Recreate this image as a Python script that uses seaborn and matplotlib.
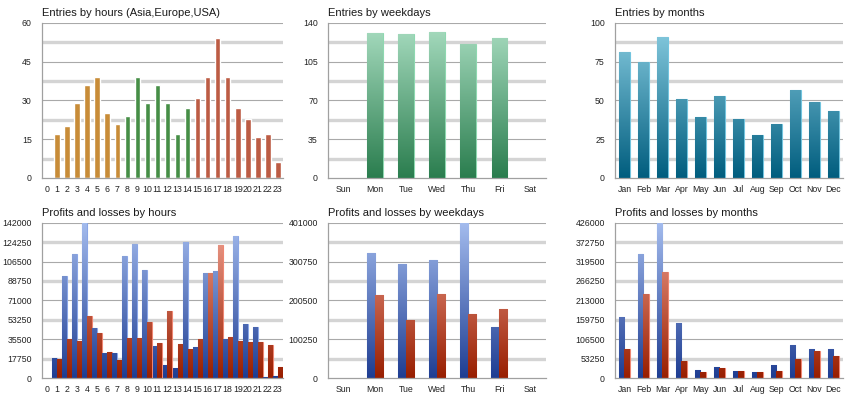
import numpy as np
import pandas as pd
import matplotlib
matplotlib.use("Agg")
import matplotlib.pyplot as plt
import seaborn as sns
from matplotlib.colors import LinearSegmentedColormap, to_hex
from matplotlib.ticker import FixedLocator, FixedFormatter, NullFormatter

# data
hours = [str(h) for h in range(24)]
hour_entries = [0, 17, 20, 29, 36, 39, 25, 21, 24, 39, 29, 36,
                29, 17, 27, 31, 39, 54, 39, 27, 23, 16, 17, 6]
hour_region = ["Asia"] * 8 + ["Europe"] * 7 + ["USA"] * 9

weekdays = ["Sun", "Mon", "Tue", "Wed", "Thu", "Fri", "Sat"]
weekday_entries = [0, 131, 130, 132, 121, 126, 0]

months = ["Jan", "Feb", "Mar", "Apr", "May", "Jun",
          "Jul", "Aug", "Sep", "Oct", "Nov", "Dec"]
month_entries = [81, 75, 91, 51, 39, 53, 38, 28, 35, 57, 49, 43]

hour_profit = [0, 18000, 93000, 113500, 142000, 45500, 23000, 22800,
               112000, 123000, 98500, 29500, 11500, 8800, 124000, 28500,
               96000, 97500, 35500, 129800, 49000, 46500, 1200, 1500]
hour_loss = [0, 17000, 35300, 34000, 56500, 41600, 23700, 16400,
             36500, 36500, 51400, 31900, 61700, 31000, 26800, 35600,
             96000, 121300, 37100, 34000, 33100, 33100, 30400, 9700]

weekday_profit = [0, 322000, 294500, 304000, 401000, 132000, 0]
weekday_loss = [0, 215500, 150300, 217300, 166600, 179500, 0]

month_profit = [167000, 340000, 426000, 150500, 21900, 29200,
                19200, 15500, 36500, 90300, 78400, 80300]
month_loss = [78400, 230000, 292000, 45600, 16400, 27400,
              20100, 15500, 19200, 52000, 73900, 61100]

# base colour -> (top of axis colour, bottom colour)
GRADIENTS = {
    "#e09020": ("#f9c97a", "#bd6e00"),
    "#3a9a3a": ("#80c880", "#0a660e"),
    "#d05030": ("#f2a292", "#9e1e00"),
    "#5fb88a": ("#aadec2", "#2a7d4e"),
    "#3a98b8": ("#8ccfe3", "#005d7e"),
    "#4a6cc4": ("#a4bcee", "#1e3d92"),
    "#cc4a2a": ("#f2a494", "#981e00"),
}
EDGES = {
    "#e09020": "#f7be6a",
    "#3a9a3a": "#72c072",
    "#d05030": "#ee8c7a",
    "#5fb88a": "#8ed8b0",
    "#3a98b8": "#72c4de",
    "#4a6cc4": "#8aa6e6",
    "#cc4a2a": "#ee8672",
}


def shade_bars(ax, ymax):
    for p in list(ax.patches):
        base = to_hex(p.get_facecolor())
        if base not in GRADIENTS or p.get_height() <= 0:
            continue
        top, bottom = GRADIENTS[base]
        cmap = LinearSegmentedColormap.from_list("g", [bottom, top])
        grad = np.linspace(1, 0, 256).reshape(-1, 1)
        x0 = p.get_x()
        im = ax.imshow(grad, cmap=cmap, vmin=0, vmax=1, aspect="auto",
                       extent=[x0, x0 + p.get_width(), 0, ymax],
                       zorder=p.get_zorder(), interpolation="bilinear")
        im.set_clip_path(p)
        p.set_facecolor("none")
        p.set_edgecolor(EDGES[base])
        p.set_linewidth(0.8)


def style_axis(ax, title, labels, ymax, eighths):
    n = len(labels)
    ax.set_xlim(-0.5, n - 0.5)
    ax.set_ylim(0, ymax)
    majors = np.linspace(0, ymax, 5)
    minors = np.linspace(0, ymax, 9)[1::2]
    ax.yaxis.set_major_locator(FixedLocator(majors))
    ax.yaxis.set_minor_locator(FixedLocator(minors))
    ax.yaxis.set_major_formatter(FixedFormatter([f"{v:.0f}" for v in majors]))
    if eighths:
        ax.yaxis.set_minor_formatter(FixedFormatter([f"{v:.0f}" for v in minors]))
        ax.tick_params(axis="y", which="minor", length=4.3, color="#a0a0a0",
                       labelsize=6.3, labelcolor="#222222", pad=3)
    else:
        ax.yaxis.set_minor_formatter(NullFormatter())
        ax.tick_params(axis="y", which="minor", length=0)
    ax.tick_params(axis="y", which="major", length=4.3, color="#a0a0a0",
                   labelsize=6.3, labelcolor="#222222", pad=3)
    ax.grid(False)
    for v in majors[1:]:
        ax.axhline(v, color="#a9a9a9", lw=0.8, zorder=0.5)
    for v in minors:
        ax.axhline(v, color="#d4d4d4", lw=2.4, zorder=0.5)

    ax.set_xticks(range(n))
    ax.set_xticklabels(labels)
    ax.set_xticks(np.arange(n + 1) - 0.5, minor=True)
    ax.tick_params(axis="x", which="major", length=0, pad=5,
                   labelsize=6.3, labelcolor="#222222")
    ax.tick_params(axis="x", which="minor", length=4.5, color="#a0a0a0")
    for side in ["top", "right"]:
        ax.spines[side].set_visible(False)
    for side in ["left", "bottom"]:
        ax.spines[side].set_color("#a0a0a0")
        ax.spines[side].set_linewidth(0.9)
    ax.set_xlabel("")
    ax.set_ylabel("")
    ax.set_title(title, loc="left", fontsize=8.0, pad=5, color="#1a1a1a")


sns.set_style("white")
plt.rcParams["font.family"] = ["Liberation Sans", "DejaVu Sans"]

fig = plt.figure(figsize=(8.6, 4.0), dpi=100)
lefts = [0.0488, 0.3814, 0.7151]
widths = [0.2802, 0.2535, 0.2651]
bottoms = [0.555, 0.055]
height = 0.388
axes = [[fig.add_axes([l, b, w, height]) for l, w in zip(lefts, widths)]
        for b in bottoms]

# top row: entries
df_h = pd.DataFrame({"hour": hours, "entries": hour_entries, "region": hour_region})
ax = axes[0][0]
sns.barplot(data=df_h, x="hour", y="entries", hue="region", order=hours,
            hue_order=["Asia", "Europe", "USA"], dodge=False, width=0.55,
            palette=["#e09020", "#3a9a3a", "#d05030"], legend=False, ax=ax)
shade_bars(ax, 60)
style_axis(ax, "Entries by hours (Asia,Europe,USA)", hours, 60, False)

df_w = pd.DataFrame({"day": weekdays, "entries": weekday_entries})
ax = axes[0][1]
sns.barplot(data=df_w, x="day", y="entries", order=weekdays, width=0.5,
            color="#5fb88a", saturation=1, ax=ax)
shade_bars(ax, 140)
style_axis(ax, "Entries by weekdays", weekdays, 140, False)

df_m = pd.DataFrame({"month": months, "entries": month_entries})
ax = axes[0][2]
sns.barplot(data=df_m, x="month", y="entries", order=months, width=0.53,
            color="#3a98b8", saturation=1, ax=ax)
shade_bars(ax, 100)
style_axis(ax, "Entries by months", months, 100, False)

# bottom row: profits and losses
pl_palette = ["#4a6cc4", "#cc4a2a"]


def pl_frame(cats, profit, loss, name):
    return pd.DataFrame({
        name: cats + cats,
        "kind": ["Profit"] * len(cats) + ["Loss"] * len(cats),
        "value": profit + loss,
    })


ax = axes[1][0]
sns.barplot(data=pl_frame(hours, hour_profit, hour_loss, "hour"), x="hour",
            y="value", hue="kind", order=hours, hue_order=["Profit", "Loss"],
            width=0.98, palette=pl_palette, saturation=1, legend=False, ax=ax)
shade_bars(ax, 142000)
style_axis(ax, "Profits and losses by hours", hours, 142000, True)

ax = axes[1][1]
sns.barplot(data=pl_frame(weekdays, weekday_profit, weekday_loss, "day"),
            x="day", y="value", hue="kind", order=weekdays,
            hue_order=["Profit", "Loss"], width=0.52, palette=pl_palette,
            saturation=1, legend=False, ax=ax)
shade_bars(ax, 401000)
style_axis(ax, "Profits and losses by weekdays", weekdays, 401000, False)

ax = axes[1][2]
sns.barplot(data=pl_frame(months, month_profit, month_loss, "month"),
            x="month", y="value", hue="kind", order=months,
            hue_order=["Profit", "Loss"], width=0.55, palette=pl_palette,
            saturation=1, legend=False, ax=ax)
shade_bars(ax, 426000)
style_axis(ax, "Profits and losses by months", months, 426000, True)

fig.savefig("out.png", dpi=100, facecolor="white")
